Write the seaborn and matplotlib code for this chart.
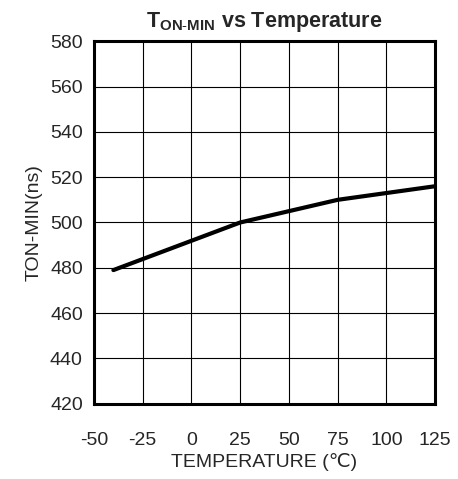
import matplotlib
matplotlib.use("Agg")
import matplotlib.pyplot as plt
import seaborn as sns
import pandas as pd

# data
temperature = [-40, 25, 75, 125]
ton_min = [479, 500, 510, 516]
x_ticks = [-50, -25, 0, 25, 50, 75, 100, 125]
y_ticks = [420, 440, 460, 480, 500, 520, 540, 560, 580]

df = pd.DataFrame({"temp": temperature, "ton": ton_min})

sns.set_style("white")
plt.rcParams['font.family'] = ['Liberation Sans', 'DejaVu Sans']
plt.rcParams['axes.unicode_minus'] = False
plt.rcParams['mathtext.fontset'] = 'custom'
plt.rcParams['mathtext.rm'] = 'Liberation Sans'
plt.rcParams['mathtext.bf'] = 'Liberation Sans:bold'

fig = plt.figure(figsize=(4.58, 4.79), dpi=100)
ax = fig.add_axes([0.205, 0.157, 0.745, 0.757])

sns.lineplot(data=df, x="temp", y="ton", ax=ax, color="black", linewidth=3)

ax.set_xlim(-50, 125)
ax.set_ylim(420, 580)
ax.set_xticks(x_ticks)
ax.set_yticks(y_ticks)
ax.grid(True, color="black", linewidth=0.8)
ax.tick_params(axis="x", length=0, pad=20, labelsize=14)
ax.tick_params(axis="y", length=0, pad=8, labelsize=14)
for s in ax.spines.values():
    s.set_linewidth(2.2)
    s.set_color("black")

ax.set_xlabel("TEMPERATURE (\u2103)", fontsize=14, labelpad=3)
ax.set_ylabel("TON-MIN(ns)", fontsize=14, labelpad=5)
ax.set_title(r"$\mathbf{T}_{\mathbf{ON}\mathbf{\text{-}MIN}}$ vs Temperature",
             fontsize=15.5, fontweight="bold", pad=10)

fig.savefig("out.png", dpi=100)
